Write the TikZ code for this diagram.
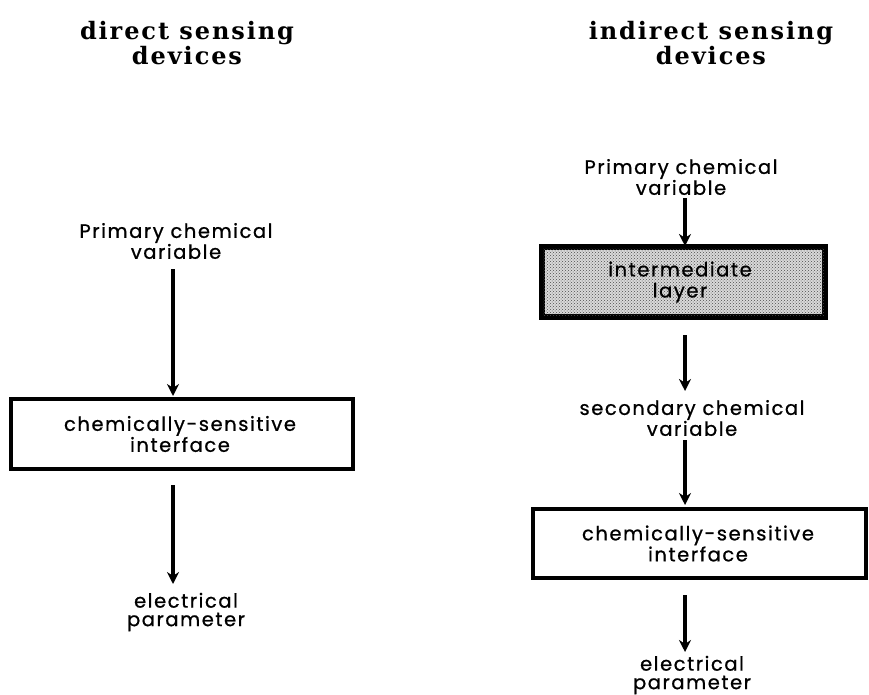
\documentclass[tikz,border=0pt]{standalone}
\usepackage{fontspec}
\setmainfont{Poppins}[LetterSpace=8,FakeBold=0.8]
\newfontfamily\titlefont{DejaVu Serif}[LetterSpace=8]
\usetikzlibrary{arrows.meta,patterns}
\begin{document}
\begin{tikzpicture}[x=1pt,y=-1pt,
  lbl/.style={align=center,inner sep=0pt,font=\fontsize{19.5}{18.5}\selectfont},
  blbl/.style={align=center,inner sep=0pt,font=\fontsize{19.5}{21}\selectfont},
  ttl/.style={align=center,inner sep=0pt,font=\titlefont\bfseries\fontsize{24}{25}\selectfont},
  boxed/.style={draw,line width=4pt,inner sep=0pt},
  arr/.style={line width=3.5pt,-{Stealth[length=12pt,width=12pt]}}]
\useasboundingbox (0,0) rectangle (869,695);
% titles
\node[ttl] (t1) at (187,43) {direct sensing\\devices};
\node[ttl] (t2) at (711,43) {indirect sensing\\devices};
% left column
\node[lbl] (l1) at (176,241) {Primary chemical\\variable};
\node[boxed,minimum width=342pt,minimum height=70pt] (l2) at (182,434) {};
\node[blbl] at (180,434) {chemically-sensitive\\interface};
\node[lbl] (l3) at (186,612) {electrical\\parameter};
\draw[arr] (l1.south -| 173,0) ++(0,10) -- (173,396);
\draw[arr] (173,485) -- (173,584);
% right column
\node[lbl] (r1) at (681,177) {Primary chemical\\variable};
\node[boxed,fill=gray!30,minimum width=281pt,minimum height=68pt] (r2) at (683.5,282) {};
\fill[pattern=crosshatch dots,pattern color=gray!60!black] (r2.south west) rectangle (r2.north east);
\draw[line width=4pt] (r2.south west) rectangle (r2.north east);
\node[blbl] at (680,282) {intermediate\\layer};
\node[lbl] (r3) at (692,418) {secondary chemical\\variable};
\node[boxed,minimum width=333pt,minimum height=69pt] (r4) at (699.5,543.5) {};
\node[blbl] at (698,543.5) {chemically-sensitive\\interface};
\node[lbl] (r5) at (692,675) {electrical\\parameter};
\draw[arr] (685,198) -- (685,246);
\draw[arr] (685,335) -- (685,391);
\draw[arr] (685,440) -- (685,505);
\draw[arr] (685,595) -- (685,652);
\end{tikzpicture}
\end{document}
